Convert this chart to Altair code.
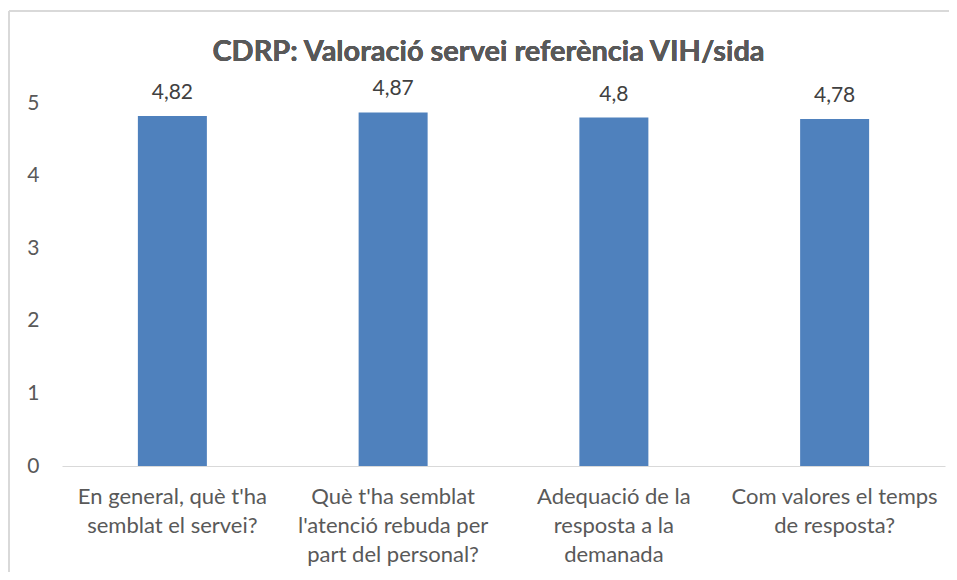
import altair as alt
import pandas as pd

categories = [
    "En general, què t'ha\nsemblat el servei?",
    "Què t'ha semblat\nl'atenció rebuda per\npart del personal?",
    "Adequació de la\nresposta a la\ndemanada",
    "Com valores el temps\nde resposta?",
]
values = [4.82, 4.87, 4.8, 4.78]
labels = ["4,82", "4,87", "4,8", "4,78"]

df = pd.DataFrame({"cat": categories, "val": values, "lab": labels})

FONT = "Lato"
W, H = 883, 363

base = alt.Chart(df).encode(
    x=alt.X(
        "cat:N",
        sort=categories,
        title=None,
        scale=alt.Scale(paddingInner=0, paddingOuter=0),
        axis=alt.Axis(
            labelAngle=0,
            labelExpr="split(datum.label, '\\n')",
            labelFont=FONT,
            labelFontSize=22,
            labelColor="#595959",
            labelLineHeight=29,
            labelPadding=20,
            labelBaseline="top",
            ticks=False,
            domainColor="#D9D9D9",
            domainWidth=1.2,
            labelLimit=300,
        ),
    ),
    y=alt.Y(
        "val:Q",
        title=None,
        scale=alt.Scale(domain=[0, 5], nice=False),
        axis=alt.Axis(
            values=[0, 1, 2, 3, 4, 5],
            grid=False,
            domain=False,
            ticks=False,
            labelFont=FONT,
            labelFontSize=21,
            labelColor="#595959",
            labelPadding=23,
        ),
    ),
)

bars = base.mark_bar(size=69, color="#4F81BD")
text = base.mark_text(
    dy=-13, baseline="bottom", font=FONT, fontSize=21, color="#404040"
).encode(text="lab:N")

title = alt.Chart(df).mark_text(
    font=FONT, fontSize=29, fontWeight="bold", color="#595959",
    baseline="middle", align="center",
).encode(
    x=alt.value(W / 2 - 15), y=alt.value(-51),
    text=alt.value("CDRP: Valoració servei referència VIH/sida"),
)

border_top = alt.Chart(df).mark_rule(color="#D9D9D9", strokeWidth=2).encode(
    x=alt.value(-53), x2=alt.value(W + 40), y=alt.value(-92)
)
border_left = alt.Chart(df).mark_rule(color="#D9D9D9", strokeWidth=2).encode(
    x=alt.value(-53), y=alt.value(-92), y2=alt.value(H + 140)
)

chart = (
    alt.layer(border_top, border_left, bars, text, title)
    .properties(
        width=W,
        height=H,
        background="white",
        autosize=alt.AutoSizeParams(type="none"),
        padding={"left": 54, "top": 95, "right": 4, "bottom": 106},
    )
    .configure_view(strokeWidth=0, stroke="transparent")
)

chart.save("out.html", embed_options={"renderer": "svg", "actions": False})
